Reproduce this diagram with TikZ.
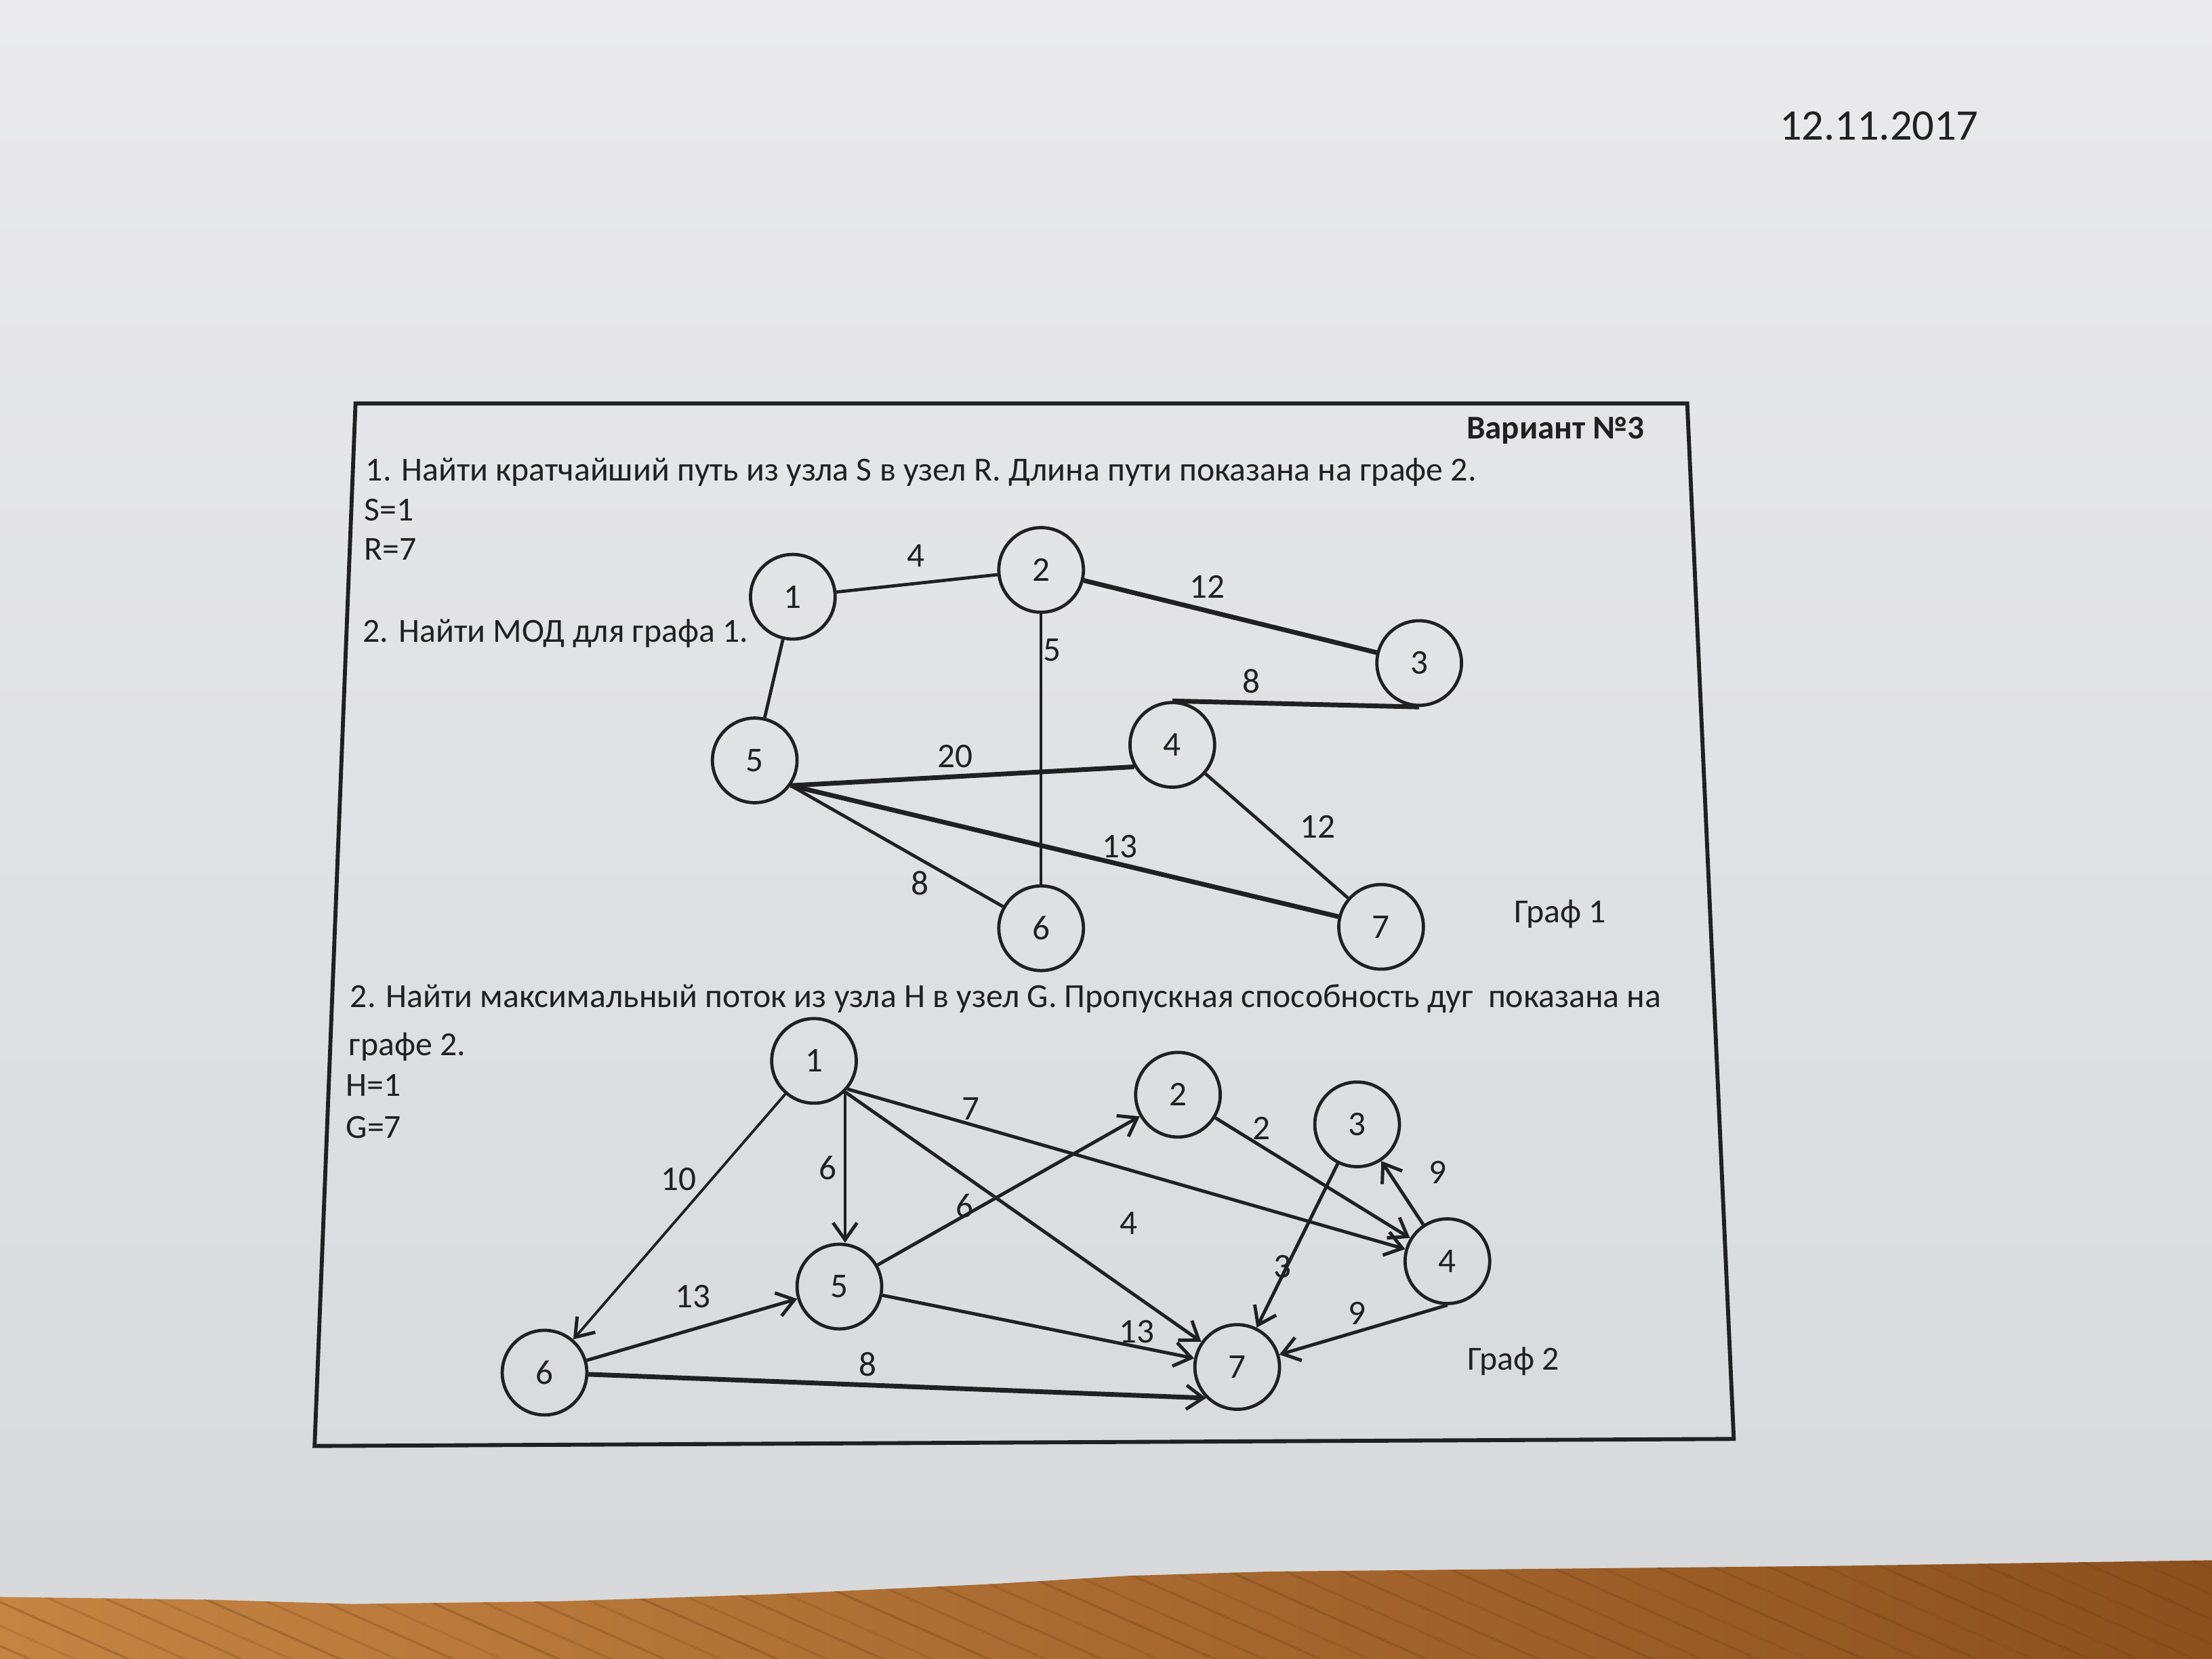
\documentclass[tikz,border=0pt]{standalone}
\usepackage{fontspec}
\setmainfont{Carlito}
\usetikzlibrary{arrows.meta}
\definecolor{paperA}{RGB}{234,234,236}
\definecolor{paperB}{RGB}{214,216,218}
\definecolor{ink}{RGB}{32,32,32}
\definecolor{woodA}{RGB}{196,132,66}
\definecolor{woodB}{RGB}{140,80,30}
\definecolor{grain}{RGB}{110,60,20}
\begin{document}
\begin{tikzpicture}[x=0.02cm,y=-0.02cm,
  vtx/.style={circle,draw=ink,line width=1.3pt,minimum size=1.2cm,inner sep=0pt,font=\fontsize{14}{16}\selectfont,text=ink},
  txt/.style={anchor=base west,inner sep=0pt,font=\fontsize{13.6}{16}\selectfont,text=ink},
  lbl/.style={inner sep=0pt,font=\fontsize{14}{16}\selectfont,text=ink},
  lnk/.style={draw=ink,line width=1.3pt},
  lnkthin/.style={draw=ink,line width=1.0pt},
  lnkthick/.style={draw=ink,line width=1.9pt},
  arc/.style={draw=ink,line width=1.35pt,-{Straight Barb[length=0.24cm,width=0.34cm,line width=1.35pt]}},
  arcthin/.style={arc,line width=1.05pt},
  arcthick/.style={arc,line width=1.9pt},
]
% paper and table
\shade[top color=paperA,bottom color=paperB] (0,0) rectangle (1568,1176);
\useasboundingbox (0,0) rectangle (1568,1176);
\begin{scope}
\clip (0,1132) -- (150,1134) -- (250,1137) -- (400,1135) -- (550,1130) -- (700,1123) -- (800,1117) -- (900,1114) -- (1100,1112) -- (1300,1110) -- (1568,1106) -- (1568,1176) -- (0,1176) -- cycle;
\shade[left color=woodA,right color=woodB] (0,1100) rectangle (1568,1176);
\foreach \i/\o in {-300/0.25,-262/0.18,-230/0.3,-190/0.2,-150/0.28,-118/0.15,-80/0.3,-40/0.2,0/0.25,35/0.18,70/0.3,110/0.2,150/0.26,185/0.15,225/0.3,262/0.2,300/0.25,340/0.18,380/0.3,415/0.2,455/0.26,490/0.15,530/0.3,570/0.2,610/0.25,650/0.18,690/0.3,725/0.2,765/0.26,800/0.15,840/0.3,880/0.2,920/0.25,960/0.18,1000/0.3,1035/0.2,1075/0.26,1110/0.15,1150/0.3,1190/0.2,1230/0.25,1270/0.18,1310/0.3,1345/0.2,1385/0.26,1420/0.15,1460/0.3,1500/0.2,1540/0.25}
  \draw[grain,opacity=\o,line width=0.9pt] (\i,1100) -- ++(180,80);
\end{scope}

% date
\node[anchor=base,inner sep=0pt,font=\fontsize{17.6}{20}\selectfont,text=ink] (date) at (1332,99) {12.11.2017};

% frame
\draw[ink,line width=1.6pt] (252,286) -- (1196,286) -- (1229,1020) -- (223,1025) -- cycle;

% texts
\node[txt,anchor=base east,font=\fontsize{13.4}{16}\selectfont\bfseries] (var) at (1166,311) {Вариант №3};
\node[txt] (t1) at (259,341) {1. Найти кратчайший путь из узла S в узел R. Длина пути показана на графе 2.};
\node[txt] (tS) at (258,369) {S=1};
\node[txt] (tR) at (258,397) {R=7};
\node[txt] (t2) at (257,455) {2. Найти МОД для графа 1.};
\node[txt] (g1) at (1073,654) {Граф 1};
\node[txt] (t3) at (248,714) {2. Найти максимальный поток из узла H в узел G. Пропускная способность дуг\ \ показана на};
\node[txt] (t4) at (247,748) {графе 2.};
\node[txt] (tH) at (245,777) {H=1};
\node[txt] (tG) at (245,807) {G=7};
\node[txt] (g2) at (1040,971) {Граф 2};

% graph 1
\node[vtx] (a1) at (562,423) {1};
\node[vtx] (a2) at (738,404) {2};
\node[vtx] (a3) at (1006,470) {3};
\node[vtx] (a4) at (831,528) {4};
\node[vtx] (a5) at (535,539) {5};
\node[vtx] (a6) at (738,658) {6};
\node[vtx] (a7) at (979,657) {7};

\draw[lnk] (a1) -- (a2);
\draw[lnkthick] (a2) -- (a3);
\draw[lnkthin] (a2) -- (a6);
\draw[lnkthick] (a4.north) -- (a3.south);
\draw[lnk] (a1) -- (a5);
\draw[lnkthick] (a5.-35) -- (a4.210);
\draw[lnk] (a5.-35) -- (a6);
\draw[lnkthick] (a5.-35) -- (a7);
\draw[lnk] (a4) -- (a7);

\node[lbl] (l12) at (649,394) {4};
\node[lbl] (l23) at (856,416) {12};
\node[lbl] (l26) at (746,461) {5};
\node[lbl] (l34) at (887,483) {8};
\node[lbl] (l54) at (677,536) {20};
\node[lbl] (l57) at (794,600) {13};
\node[lbl] (l47) at (934,586) {12};
\node[lbl] (l56) at (652,626) {8};

% graph 2
\node[vtx] (b1) at (577,752) {1};
\node[vtx] (b2) at (835,776) {2};
\node[vtx] (b3) at (962,797) {3};
\node[vtx] (b4) at (1026,894) {4};
\node[vtx] (b5) at (595,912) {5};
\node[vtx] (b6) at (386,973) {6};
\node[vtx] (b7) at (877,969) {7};

\draw[arcthin] (b1) -- (b6);
\draw[arcthin] (b1.-45) -- (b1.-45 |- b5.north);
\draw[arc] (b1.-40) -- (b4);
\draw[arc] (b1.-45) -- (b7);
\draw[arc] (b5) -- (b2);
\draw[arc] (b2) -- (b4);
\draw[arc] (b3) -- (b7);
\draw[arc] (b4) -- (b3);
\draw[arc] (b4.south) -- (b7);
\draw[arc] (b6) -- (b5);
\draw[arc] (b5) -- (b7);
\draw[arcthick] (b6) -- (b7.225);

\node[lbl] (m16) at (481,836) {10};
\node[lbl] (m15) at (587,828) {6};
\node[lbl] (m14) at (688,786) {7};
\node[lbl] (m17) at (800,867) {4};
\node[lbl] (m52) at (684,855) {6};
\node[lbl] (m24) at (894,800) {2};
\node[lbl] (m37) at (909,898) {3};
\node[lbl] (m43) at (1019,831) {9};
\node[lbl] (m47) at (962,931) {9};
\node[lbl] (m65) at (491,919) {13};
\node[lbl] (m57) at (806,944) {13};
\node[lbl] (m67) at (615,967) {8};
\end{tikzpicture}
\end{document}
